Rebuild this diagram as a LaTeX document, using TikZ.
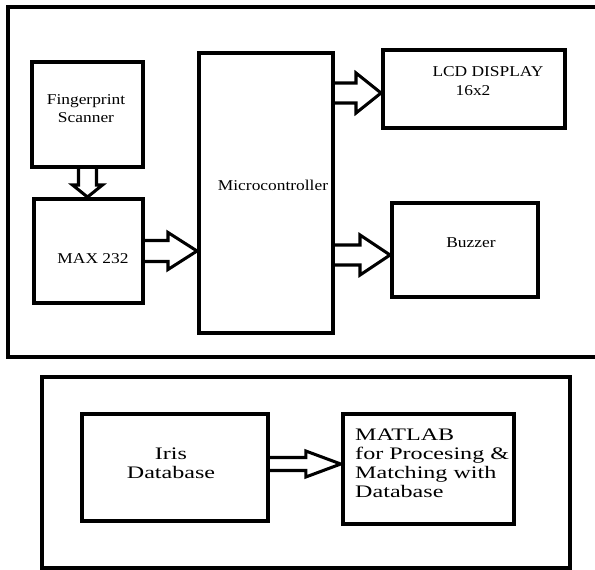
\documentclass[tikz,border=0pt]{standalone}
\usepackage{fontspec}
\setmainfont{Liberation Serif}
\newfontfamily\topfont[FakeStretch=1.16]{Liberation Serif}
\newfontfamily\botfont[FakeStretch=1.37]{Liberation Serif}
\usetikzlibrary{calc}
\newdimen\px \px=0.03cm
% horizontal hollow arrow: start, tip, shaft half, head half, head length
\newcommand{\fatarrow}[5]{%
	\draw[hollow] ($(#1)+(0,-#3)$) -- ($(#2)+(-#5,-#3)$) -- ($(#2)+(-#5,-#4)$) -- (#2)
		-- ($(#2)+(-#5,#4)$) -- ($(#2)+(-#5,#3)$) -- ($(#1)+(0,#3)$);}

\begin{document}
\begin{tikzpicture}[x=0.03cm, y=-0.03cm,
		box/.style={draw, line width=3.4pt, inner sep=0pt},
		frame/.style={draw, line width=2.8pt},
		hollow/.style={draw, line width=2.6pt, miter limit=10},
		toptxt/.style={font=\topfont\fontsize{12.8}{15.4}\selectfont, align=center, inner sep=0pt},
		bottxt/.style={font=\botfont\fontsize{15}{16.2}\selectfont, inner sep=0pt}]
			\useasboundingbox (0,0) rectangle (595,570);
			% frames
			\draw[frame] (8,7) rectangle (600,357);
			\draw[frame, line width=3.8pt] (42,377) rectangle (570,568);
			% hardware part
			\node[box, minimum width=111\px, minimum height=105\px] (fp) at (87.5,114.5) {};
			\node[box, minimum width=109\px, minimum height=104\px] (max) at (88.5,251) {};
			\node[box, minimum width=134\px, minimum height=280\px] (mcu) at (266,193) {};
			\node[box, minimum width=182\px, minimum height=78\px] (lcd) at (474,89) {};
			\node[box, minimum width=146\px, minimum height=94\px] (buzzer) at (465,250) {};
			\node[toptxt] (fptxt) at (86,109) {Fingerprint\\Scanner};
			\node[toptxt] (maxtxt) at (93,259) {MAX 232};
			\node[toptxt] (mcutxt) at (273,185) {Microcontroller};
			\node[toptxt] (lcdtxt) at (488,72) {LCD DISPLAY};
			\node[toptxt] (lcdsize) at (473,91) {16x2};
			\node[toptxt] (buzzertxt) at (471,243) {Buzzer};
			\coordinate (lcdin) at ($(lcd.west)+(0,4)$);
			\coordinate (buzzerin) at ($(buzzer.west)+(0,5)$);
			\draw[hollow] ($(fp.south)+(-9,0)$) -- ($(fp.south)+(-9,16)$) -- ($(fp.south)+(-15,16)$)
				-- (fp.south |- max.north) -- ($(fp.south)+(15,16)$) -- ($(fp.south)+(9,16)$) -- ($(fp.south)+(9,0)$);
			\fatarrow{max.east}{mcu.west |- max.east}{10.5}{18.5}{29}
			\fatarrow{mcu.east |- lcdin}{lcdin}{10}{20}{25}
			\fatarrow{mcu.east |- buzzerin}{buzzerin}{10}{20}{30}
			% software part
			\node[box, line width=3.8pt, minimum width=186\px, minimum height=107\px] (iris) at (175,467.5) {};
			\node[box, line width=3.8pt, minimum width=171\px, minimum height=110\px] (matlab) at (428.5,469) {};
			\node[bottxt, align=center] (iristxt) at (171,463) {Iris\\Database};
			\node[bottxt, align=left, anchor=west] (matlabtxt) at (355,463) {MATLAB\\for Procesing \&\\Matching with\\Database};
			\coordinate (matlabin) at ($(matlab.west)+(0,-5)$);
			\fatarrow{iris.east |- matlabin}{matlabin}{6.5}{13}{35}
		\end{tikzpicture}
\end{document}
